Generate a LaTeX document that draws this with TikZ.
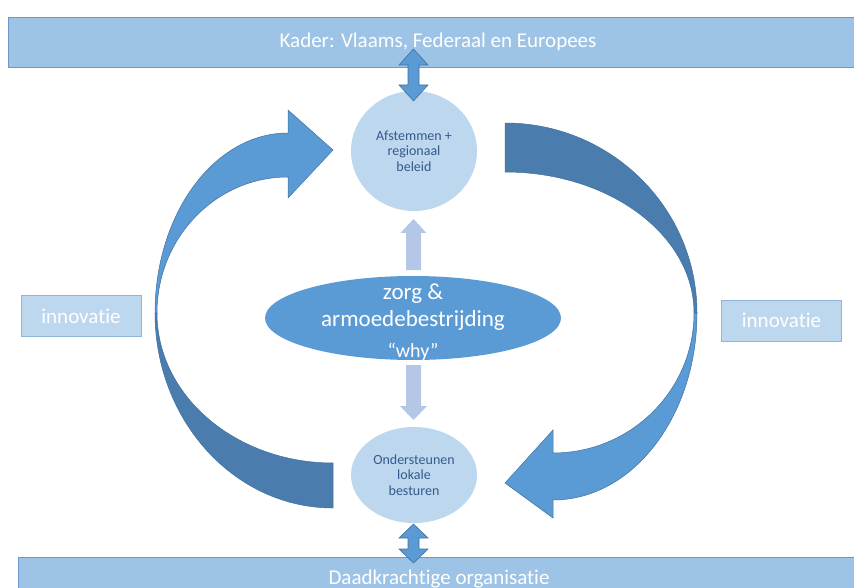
\documentclass[tikz,border=0pt]{standalone}
\usepackage{fontspec}
\setmainfont[Ligatures=NoCommon]{Carlito}
\usetikzlibrary{shapes.geometric}
\definecolor{bannerfill}{HTML}{9DC3E6}
\definecolor{bannerline}{HTML}{6A98C8}
\definecolor{paleblue}{HTML}{BDD7EE}
\definecolor{paleline}{HTML}{8FB5DC}
\definecolor{midblue}{HTML}{5B9BD5}
\definecolor{darkblue}{HTML}{4A7DAE}
\definecolor{edgeblue}{HTML}{41719C}
\definecolor{lightarrow}{HTML}{B4C7E7}
\definecolor{bubbletext}{HTML}{34598C}
\begin{document}
\begin{tikzpicture}[x=1pt,y=-1pt,
  every node/.style={inner sep=0pt,outer sep=0pt},
  banner/.style={rectangle,fill=bannerfill,draw=bannerline,line width=0.8pt,text=white,font=\fontsize{21}{24}\selectfont},
  bubble/.style={ellipse,fill=paleblue,text=bubbletext,align=center,font=\fontsize{14}{15.5}\selectfont},
  innobox/.style={rectangle,fill=paleblue,draw=paleline,line width=0.8pt,text=white,minimum width=120pt,minimum height=41pt,font=\fontsize{21}{24}\selectfont},
  whitetext/.style={text=white,anchor=base},
  blockarrow/.style={fill=midblue,draw=edgeblue,line width=0.6pt},
  softarrow/.style={fill=lightarrow},
  darkband/.style={fill=darkblue,draw=edgeblue,line width=0.5pt},
  lightband/.style={fill=midblue,draw=edgeblue,line width=0.5pt}]
\useasboundingbox (0,0) rectangle (854,588);

% banners
\node[banner,minimum width=860pt,minimum height=50pt] (kader) at (438,42) {Kader: Vlaams, Federaal en Europees};
\node[banner,minimum width=842pt,minimum height=44pt] (daad) at (439,579) {Daadkrachtige organisatie};

% side boxes
\node[innobox] (innoL) at (81,316) {innovatie};
\node[innobox] (innoR) at (781.5,320.5) {innovatie};

% bubbles
\node[bubble,minimum width=126pt,minimum height=120pt] (afst) at (414,151) {Afstemmen +\\regionaal\\beleid};
\node[bubble,minimum width=126pt,minimum height=96pt] (onder) at (414,475) {Ondersteunen\\lokale\\besturen};

% centre ellipse
\node[ellipse,fill=midblue,minimum width=296pt,minimum height=84pt] (zorg) at (413,318) {};
\node[whitetext,font=\fontsize{23}{26}\selectfont] (zorgA) at (413,299) {zorg \&};
\node[whitetext,font=\fontsize{23}{26}\selectfont] (zorgB) at (413,326) {armoedebestrijding};
\node[whitetext,font=\fontsize{20}{24}\selectfont] (why) at (413,357) {“why”};

% soft vertical arrows
\path[softarrow] (413.5,219) -- (426.5,233) -- (421,233) -- (421,270) -- (406,270) -- (406,233) -- (400.5,233) -- cycle;
\path[softarrow] (406,365) -- (421,365) -- (421,406) -- (427,406) -- (413.5,420) -- (400,406) -- (406,406) -- cycle;

% double arrows
\draw[blockarrow] (413.5,49) -- (428,65) -- (419,65) -- (419,85) -- (428,85) -- (413.5,101) -- (399,85) -- (408,85) -- (408,65) -- (399,65) -- cycle;
\draw[blockarrow] (413.5,524) -- (428,538) -- (419,538) -- (419,549) -- (428,549) -- (413.5,563) -- (399,549) -- (408,549) -- (408,538) -- (399,538) -- cycle;

% left curved arrow
\draw[darkband] (333,508) .. controls (234.7,508) and (155,420.7) .. (155,313)
  -- (157,313) .. controls (157,395.8) and (235.8,463) .. (333,463) -- cycle;
\draw[lightband] (155,313) .. controls (155,213.6) and (214.5,133) .. (288,133)
  -- (288,110) -- (333,150) -- (288,198) -- (288,177)
  .. controls (215.6,177) and (157,237.9) .. (157,313) -- cycle;

% right curved arrow
\draw[darkband] (505,123) .. controls (611,123) and (697,208.1) .. (697,313)
  -- (694,313) .. controls (694,235.1) and (609.4,172) .. (505,172) -- cycle;
\draw[lightband] (697,313) .. controls (697,416.3) and (632.5,500) .. (553,500)
  -- (553,518) -- (505,483) -- (553,430) -- (553,453)
  .. controls (630.9,453) and (694,390.3) .. (694,313) -- cycle;
\end{tikzpicture}
\end{document}
